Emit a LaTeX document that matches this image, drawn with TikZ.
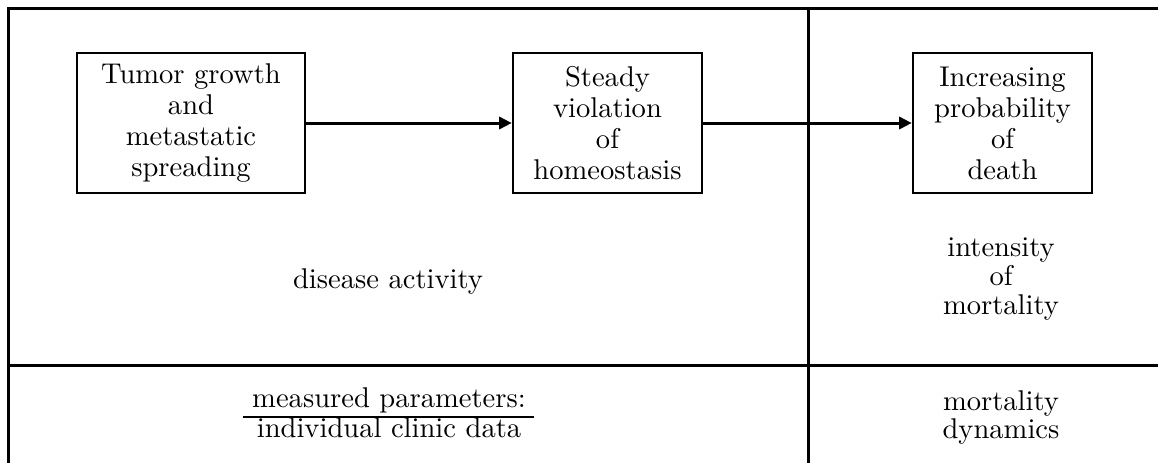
\documentclass[tikz,border=0pt]{standalone}
\usetikzlibrary{arrows.meta}
\begin{document}
\begin{tikzpicture}[x=0.35pt,y=-0.35pt,
  frame/.style={line width=1.05pt},
  procbox/.style={draw,line width=0.85pt,align=center,inner sep=0pt,
    minimum height=49pt,font=\fontsize{10}{10.85}\selectfont},
  lbl/.style={align=center,inner sep=0pt,font=\fontsize{10}{10.15}\selectfont},
  flow/.style={line width=1.05pt,-{Triangle[length=4.4pt,width=4.2pt]}}]
\useasboundingbox (0,0) rectangle (1158,463);
% frame lines
\coordinate (tl) at (8,8);
\coordinate (tr) at (1158,8);
\coordinate (bl) at (8,463);
\coordinate (vt) at (808,8);
\coordinate (vb) at (808,463);
\coordinate (hl) at (8,365);
\coordinate (hr) at (1158,365);
\draw[frame] (tr) -- (tl) -- (bl);
\draw[frame] (vt) -- (vb);
\draw[frame] (hl) -- (hr);
% boxes
\node[procbox,minimum width=79.8pt] (b1) at (191,123) {Tumor growth\\and\\metastatic\\spreading};
\node[procbox,minimum width=66.15pt] (b2) at (607.5,123) {Steady\\violation\\of\\homeostasis};
\node[procbox,minimum width=62.65pt] (b3) at (1002.5,123) {Increasing\\probability\\of\\death};
\draw[flow] (b1.east) -- (b2.west);
\draw[flow] (b2.east) -- (b3.west);
% labels
\node[lbl,anchor=base] (da) at (388,288) {disease activity};
\node[lbl] (im) at (1001,279) {intensity\\of\\mortality};
\node[lbl,font=\fontsize{10}{9.8}\selectfont] (md) at (1001,417) {mortality\\dynamics};
\node[lbl,anchor=base] (mp) at (389,407) {measured parameters:};
\node[lbl,anchor=base] (ic) at (389,437) {individual clinic data};
\coordinate (r1) at (243,417);
\coordinate (r2) at (534,417);
\draw[line width=0.7pt] (r1) -- (r2);
\end{tikzpicture}
\end{document}
